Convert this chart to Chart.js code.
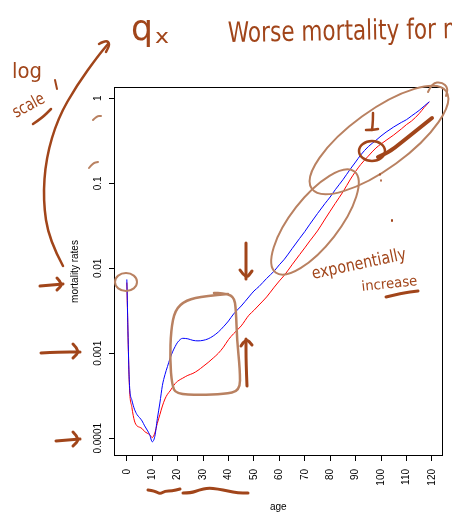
<!DOCTYPE html>
<html>
<head>
<meta charset="utf-8">
<script src="https://cdn.jsdelivr.net/npm/chart.js@4.4.1/dist/chart.umd.min.js"></script>
<style>
    html, body { margin: 0; padding: 0; background: #fff; }
    canvas { display: block; }
</style>
</head>
<body>
<canvas id="mortalityChart" width="452" height="513"></canvas>
<script>
// Mortality rates (qx) by age, log scale

const ages = [0, 1, 2, 3, 4, 5, 6, 7, 8, 9, 10, 11, 12, 13, 14, 15, 16, 17, 18, 19, 20,
    22, 24, 26, 28, 30, 32, 34, 36, 38, 40, 42, 45, 48, 50, 52, 55, 58, 60, 62, 65,
    68, 70, 72, 75, 78, 80, 82, 85, 88, 90, 92, 95, 98, 100, 102, 105, 108, 110, 112,
    115, 117, 119];

const blueRates = [0.0074, 0.00045, 0.00028, 0.00022, 0.00019, 0.000175, 0.00016, 0.00014,
    0.000125, 0.00011, 0.000091, 0.000105, 0.00017, 0.00026, 0.00042, 0.00056, 0.0007,
    0.00087, 0.00104, 0.0012, 0.00135, 0.0015, 0.00148, 0.00142, 0.0014, 0.00142, 0.00148,
    0.0016, 0.00178, 0.00205, 0.0024, 0.0029, 0.0036, 0.0046, 0.0054, 0.0061, 0.0076,
    0.0093, 0.011, 0.0128, 0.017, 0.0225, 0.027, 0.033, 0.044, 0.058, 0.069, 0.084, 0.11,
    0.148, 0.178, 0.215, 0.27, 0.32, 0.36, 0.40, 0.46, 0.52, 0.56, 0.62, 0.72, 0.81, 0.91];

const redRates = [0.0068, 0.00042, 0.00023, 0.00016, 0.00014, 0.000135, 0.00013, 0.00012,
    0.000115, 0.00011, 0.000102, 0.000115, 0.00015, 0.00019, 0.00024, 0.00029, 0.00033,
    0.00036, 0.0004, 0.00044, 0.00047, 0.00051, 0.00055, 0.00058, 0.00063, 0.0007, 0.00078,
    0.00088, 0.001, 0.00118, 0.00145, 0.0017, 0.0021, 0.0028, 0.0032, 0.0037, 0.0046,
    0.006, 0.0071, 0.0083, 0.011, 0.0145, 0.0174, 0.021, 0.0275, 0.038, 0.047, 0.058, 0.079,
    0.112, 0.138, 0.166, 0.209, 0.26, 0.29, 0.32, 0.37, 0.436, 0.49, 0.54, 0.66, 0.78, 0.91];

const ageTicks = [0, 10, 20, 30, 40, 50, 60, 70, 80, 90, 100, 110, 120];
const rateTicks = [0.0001, 0.001, 0.01, 0.1, 1];
const rateTickLabels = ["0.0001", "0.001", "0.01", "0.1", "1"];

const axisFont = '10px "Liberation Sans", Arial, sans-serif';
const ink = "#a1451a";
const pale = "#b98161";


// handwriting helpers

function curve(ctx, pts, color, width) {
    ctx.save();
    ctx.strokeStyle = color;
    ctx.lineWidth = width;
    ctx.lineCap = "round";
    ctx.lineJoin = "round";
    ctx.beginPath();
    ctx.moveTo(pts[0][0], pts[0][1]);
    for (let i = 1; i < pts.length - 1; i++) {
        const mx = (pts[i][0] + pts[i + 1][0]) / 2;
        const my = (pts[i][1] + pts[i + 1][1]) / 2;
        ctx.quadraticCurveTo(pts[i][0], pts[i][1], mx, my);
    }
    const last = pts[pts.length - 1];
    ctx.lineTo(last[0], last[1]);
    ctx.stroke();
    ctx.restore();
}

function loop(ctx, cx, cy, rx, ry, deg, color, width) {
    ctx.save();
    ctx.strokeStyle = color;
    ctx.lineWidth = width;
    ctx.beginPath();
    ctx.ellipse(cx, cy, rx, ry, deg * Math.PI / 180, 0, Math.PI * 2);
    ctx.stroke();
    ctx.restore();
}

function note(ctx, text, x, y, size, width, deg) {
    ctx.save();
    ctx.translate(x, y);
    ctx.rotate(deg * Math.PI / 180);
    ctx.font = size + 'px "DejaVu Sans", sans-serif';
    ctx.fillStyle = ink;
    ctx.textBaseline = "alphabetic";
    const w = ctx.measureText(text).width;
    ctx.scale(width / w, 1);
    ctx.fillText(text, 0, 0);
    ctx.restore();
}


// R style frame, rotated y labels and axis titles

const framePlugin = {
    id: "frame",
    afterDraw(chart) {
        const ctx = chart.ctx;
        const a = chart.chartArea;
        const y = chart.scales.y;

        ctx.save();
        ctx.strokeStyle = "#000";
        ctx.lineWidth = 1;
        ctx.strokeRect(Math.round(a.left) + 0.5, Math.round(a.top) + 0.5,
            Math.round(a.right - a.left) - 1, Math.round(a.bottom - a.top) - 1);

        ctx.fillStyle = "#000";
        ctx.font = axisFont;
        ctx.textAlign = "center";
        ctx.textBaseline = "middle";
        rateTicks.forEach((v, i) => {
            ctx.save();
            ctx.translate(a.left - 16, y.getPixelForValue(v));
            ctx.rotate(-Math.PI / 2);
            ctx.fillText(rateTickLabels[i], 0, 0);
            ctx.restore();
        });

        ctx.save();
        ctx.translate(75, (a.top + a.bottom) / 2);
        ctx.rotate(-Math.PI / 2);
        ctx.fillText("mortality rates", 0, 0);
        ctx.restore();

        ctx.fillText("age", (a.left + a.right) / 2, 507);
        ctx.restore();
    }
};


// pen annotations drawn over the plot

const penPlugin = {
    id: "pen",
    afterDraw(chart) {
        const ctx = chart.ctx;

        // headings
        note(ctx, "q", 131, 40, 36, 22, 0);
        note(ctx, "x", 155, 43, 20, 14, 0);
        note(ctx, "Worse mortality for m", 228, 42, 28, 236, -1);

        // log scale note and long arrow
        note(ctx, "log", 12, 78, 22, 30, 0);
        note(ctx, "scale", 16, 118, 17, 34, -28);
        curve(ctx, [[33, 124], [42, 118], [51, 109]], ink, 2.5);
        curve(ctx, [[55, 80], [57, 89]], ink, 2);
        curve(ctx, [[63, 266], [49, 240], [43, 200], [46, 158], [58, 118], [77, 85], [98, 56], [108, 44]], ink, 2.5);
        curve(ctx, [[99, 44], [106, 40], [110, 44], [106, 52]], ink, 2.5);
        curve(ctx, [[93, 120], [97, 116], [101, 116]], pale, 2);
        curve(ctx, [[89, 168], [93, 163], [98, 162]], pale, 2);

        // left arrows at the y ticks
        curve(ctx, [[40, 286], [52, 285], [63, 284]], ink, 3);
        curve(ctx, [[57, 278], [63, 284], [57, 290]], ink, 3);
        curve(ctx, [[41, 353], [60, 352], [80, 352]], ink, 3);
        curve(ctx, [[73, 344], [80, 351], [73, 358]], ink, 3);
        curve(ctx, [[56, 441], [68, 440], [80, 439]], ink, 3);
        curve(ctx, [[73, 432], [80, 439], [73, 446]], ink, 3);

        // circles and boxes on the curves
        loop(ctx, 126, 282, 11, 9, 0, pale, 2);
        curve(ctx, [[228, 294], [205, 296], [186, 300], [175, 310], [171, 330], [170, 360],
            [172, 385], [176, 394], [200, 395], [224, 394], [240, 391], [240, 370],
            [237, 340], [236, 310], [234, 296], [222, 293], [214, 293]], pale, 2.5);
        loop(ctx, 315, 222, 64, 24, -52, pale, 2);
        loop(ctx, 379, 140, 83, 29, -36, pale, 2);
        curve(ctx, [[428, 92], [432, 83], [442, 82], [448, 88], [446, 96]], pale, 2);
        loop(ctx, 372, 151, 13, 10, 0, ink, 2.5);

        // arrows inside the plot
        curve(ctx, [[246, 243], [246, 262], [246, 279]], ink, 3);
        curve(ctx, [[240, 270], [246, 279], [252, 271]], ink, 3);
        curve(ctx, [[247, 386], [246, 362], [246, 339]], ink, 3);
        curve(ctx, [[241, 346], [246, 338], [252, 345]], ink, 3);
        curve(ctx, [[373, 113], [373, 121], [372, 130]], ink, 2.5);
        curve(ctx, [[366, 130], [372, 130], [378, 129]], ink, 2.5);
        curve(ctx, [[378, 157], [388, 153], [402, 142], [417, 130], [432, 118]], ink, 4);
        curve(ctx, [[380, 174], [380, 175]], ink, 1.5);
        curve(ctx, [[381, 180], [381, 181]], ink, 1.5);

        // exponential increase note
        note(ctx, "exponentially", 313, 279, 17, 96, -12);
        note(ctx, "increase", 362, 291, 14, 56, -6);
        curve(ctx, [[386, 297], [402, 293], [418, 291]], ink, 3);
        curve(ctx, [[392, 220], [392, 221]], ink, 2);

        // squiggles under the ages
        curve(ctx, [[148, 490], [155, 491], [160, 494], [165, 491], [172, 491], [180, 489]], ink, 3);
        curve(ctx, [[183, 493], [191, 493], [199, 490], [208, 488], [218, 489],
            [228, 491], [238, 493], [248, 493]], ink, 3);
    }
};


const mortalityChart = new Chart(document.getElementById("mortalityChart"), {
    type: "line",

    data: {
        datasets: [{
            label: "blue",
            data: ages.map((a, i) => ({ x: a, y: blueRates[i] })),
            borderColor: "#0000ff",
            borderWidth: 1,
            pointRadius: 0,
            cubicInterpolationMode: "monotone"
        }, {
            label: "red",
            data: ages.map((a, i) => ({ x: a, y: redRates[i] })),
            borderColor: "#ff0000",
            borderWidth: 1,
            pointRadius: 0,
            cubicInterpolationMode: "monotone"
        }]
    },

    options: {
        responsive: false,
        animation: false,
        devicePixelRatio: 1,
        layout: {
            padding: { top: 87, right: 5, left: 0, bottom: 0 }
        },
        plugins: {
            legend: { display: false },
            tooltip: { enabled: false }
        },
        scales: {
            x: {
                type: "linear",
                min: -5.05,
                max: 124.27,
                afterBuildTicks: (s) => { s.ticks = ageTicks.map(v => ({ value: v })); },
                afterFit: (s) => { s.height = 57; },
                border: { display: false },
                grid: {
                    drawOnChartArea: false,
                    drawTicks: true,
                    tickLength: 5,
                    color: "#000",
                    tickColor: "#000"
                },
                ticks: {
                    autoSkip: false,
                    minRotation: 90,
                    maxRotation: 90,
                    padding: 8,
                    color: "#000",
                    font: { family: '"Liberation Sans", Arial, sans-serif', size: 10 }
                }
            },
            y: {
                type: "logarithmic",
                min: 6.19e-5,
                max: 1.358,
                afterBuildTicks: (s) => { s.ticks = rateTicks.map(v => ({ value: v })); },
                afterFit: (s) => { s.width = 114; },
                border: { display: false },
                grid: {
                    drawOnChartArea: false,
                    drawTicks: true,
                    tickLength: 5,
                    color: "#000",
                    tickColor: "#000"
                },
                ticks: { display: false }
            }
        }
    },

    plugins: [framePlugin, penPlugin]
});
</script>
</body>
</html>
